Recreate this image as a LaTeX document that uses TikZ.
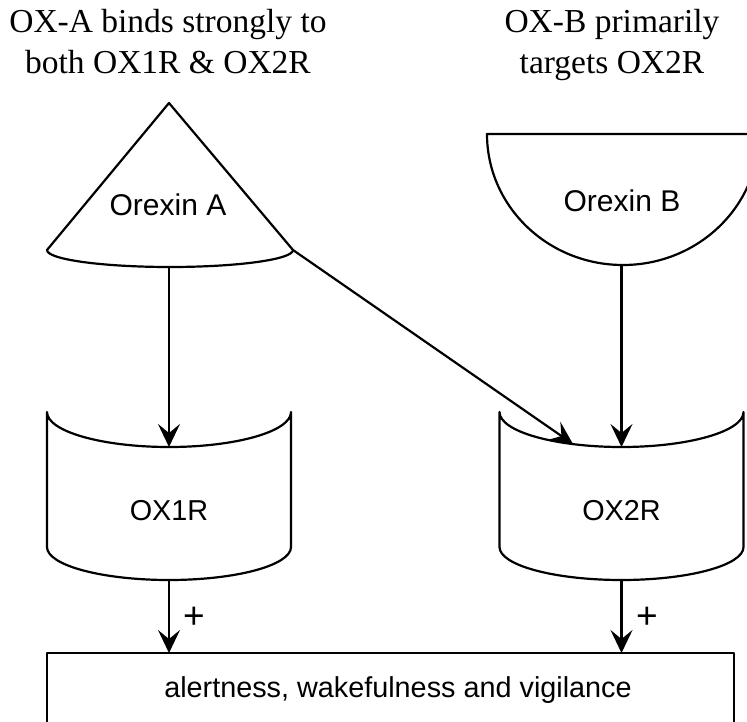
\documentclass[tikz,border=0pt]{standalone}
\usepackage{fontspec}
\setmainfont{Liberation Serif}
\newfontfamily\labelfont{Liberation Sans}
\usetikzlibrary{arrows.meta}
\begin{document}
\begin{tikzpicture}[x=1pt,y=-1pt,
  shapeline/.style={draw=black, line width=2.2pt, line join=round},
  conn/.style={draw=black, line width=2.2pt, -{Stealth[length=23pt,width=22pt,inset=9pt]}},
  titletext/.style={font=\fontsize{33.5}{40}\selectfont, anchor=base, inner sep=0pt},
  lbl/.style={font=\labelfont\fontsize{28.8}{34}\selectfont, anchor=base, inner sep=0pt},
  biglbl/.style={font=\labelfont\fontsize{30}{36}\selectfont, anchor=base, inner sep=0pt},
  signlbl/.style={font=\labelfont\fontsize{37}{42}\selectfont, anchor=center, inner sep=0pt},
]
\useasboundingbox (0,0) rectangle (747,722);
\clip (0,0) rectangle (747,722);
\fill[white] (0,0) rectangle (747,722);

% titles
\node[titletext] (t1a) at (168,33) {OX-A binds strongly to};
\node[titletext] (t1b) at (168,74) {both OX1R \& OX2R};
\node[titletext] (t2a) at (612,33) {OX-B primarily};
\node[titletext] (t2b) at (612,74) {targets OX2R};

% Orexin A (cone)
\coordinate (oxa-apex) at (169,103);
\coordinate (oxa-l) at (47,250);
\coordinate (oxa-r) at (293,250);
\coordinate (oxa-bot) at (170,267);
\draw[shapeline] (oxa-l) -- (oxa-apex) -- (oxa-r)
  .. controls (293,259.4) and (237.9,267) .. (oxa-bot)
  .. controls (102.1,267) and (47,259.4) .. cycle;
\node[biglbl] (oxa) at (168,216) {Orexin A};

% Orexin B (half disc)
\coordinate (oxb-l) at (487,134);
\coordinate (oxb-r) at (759,134);
\coordinate (oxb-bot) at (623,265);
\draw[shapeline] (oxb-l) .. controls (487,206.4) and (547.9,265) .. (oxb-bot)
  .. controls (698.1,265) and (759,206.4) .. (oxb-r) -- cycle;
\node[biglbl] (oxb) at (622,212) {Orexin B};

% OX1R
\coordinate (ox1r-top) at (169,447);
\coordinate (ox1r-bot) at (169,580);
\draw[shapeline] (47,412) -- (47,547)
  .. controls (47,565.2) and (101.6,580) .. (ox1r-bot)
  .. controls (236.4,580) and (291,565.2) .. (291,547) -- (291,412)
  .. controls (291,431.3) and (236.4,447) .. (ox1r-top)
  .. controls (101.6,447) and (47,431.3) .. cycle;
\node[lbl] (ox1r) at (169,520) {OX1R};

% OX2R
\coordinate (ox2r-top) at (621.5,447);
\coordinate (ox2r-bot) at (621.5,580);
\coordinate (ox2r-in) at (573,444);
\draw[shapeline] (499.5,412) -- (499.5,547)
  .. controls (499.5,565.2) and (554.1,580) .. (ox2r-bot)
  .. controls (688.9,580) and (743.5,565.2) .. (743.5,547) -- (743.5,412)
  .. controls (743.5,431.3) and (688.9,447) .. (ox2r-top)
  .. controls (554.1,447) and (499.5,431.3) .. cycle;
\node[lbl] (ox2r) at (621.5,520) {OX2R};

% effect box
\draw[shapeline] (47,653) rectangle (734,780);
\coordinate (eff-l) at (169,653);
\coordinate (eff-r) at (621.5,653);
\node[lbl] (effect) at (398,697) {alertness, wakefulness and vigilance};

% connectors
\draw[conn] (oxa-bot -| ox1r-top) -- (ox1r-top);
\draw[conn] (oxa-r) -- (ox2r-in);
\draw[conn] (oxb-bot -| ox2r-top) -- (ox2r-top);
\draw[conn] (ox1r-bot) -- (eff-l);
\draw[conn] (ox2r-bot) -- (eff-r);
\node[signlbl] (plus1) at (194,618) {+};
\node[signlbl] (plus2) at (647,618) {+};
\end{tikzpicture}
\end{document}
